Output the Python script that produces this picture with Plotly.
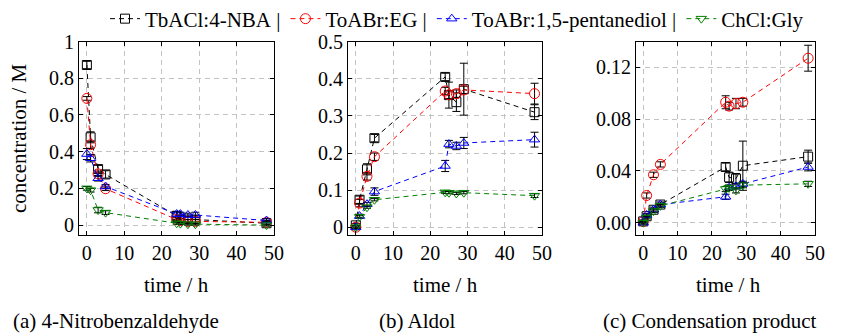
import plotly.graph_objects as go

# ---------------- data ----------------
time_h = [0, 1, 3, 5, 24, 25, 27, 29, 48]
series_names = ["TbACl:4-NBA", "ToABr:EG", "ToABr:1,5-pentanediol", "ChCl:Gly"]
captions = ["(a) 4-Nitrobenzaldehyde", "(b) Aldol", "(c) Condensation product"]

# (a) 4-Nitrobenzaldehyde
a_tbacl = [0.872, 0.478, 0.305, 0.276, 0.050, 0.035, 0.030, 0.030, 0.010]
a_toabr_eg = [0.690, 0.438, 0.279, 0.198, 0.030, 0.025, 0.020, 0.020, 0.015]
a_toabr_pd = [0.387, 0.364, 0.255, 0.210, 0.060, 0.060, 0.055, 0.055, 0.025]
a_chcl_gly = [0.200, 0.190, 0.082, 0.068, 0.010, 0.008, 0.005, 0.005, 0.000]
a_tbacl_err = [0.02, 0.03, 0.02, 0.02, 0.02, 0.015, 0.015, 0.02, 0.01]
a_toabr_eg_err = [0.01, 0.02, 0.015, 0.01, 0.01, 0.01, 0.01, 0.01, 0.01]
a_toabr_pd_err = [0.03, 0.02, 0.015, 0.01, 0.015, 0.01, 0.01, 0.015, 0.01]
a_chcl_gly_err = [0.01, 0.01, 0.015, 0.01, 0.005, 0.005, 0.005, 0.005, 0.005]

# (b) Aldol
b_tbacl = [0.005, 0.074, 0.156, 0.240, 0.405, 0.356, 0.337, 0.372, 0.310]
b_toabr_eg = [0.000, 0.065, 0.137, 0.190, 0.367, 0.357, 0.360, 0.370, 0.360]
b_toabr_pd = [0.000, 0.030, 0.062, 0.096, 0.165, 0.224, 0.219, 0.227, 0.236]
b_chcl_gly = [0.000, 0.028, 0.054, 0.074, 0.094, 0.093, 0.091, 0.093, 0.085]
b_tbacl_err = [0.005, 0.01, 0.015, 0.01, 0.01, 0.035, 0.025, 0.07, 0.02]
b_toabr_eg_err = [0.005, 0.01, 0.01, 0.01, 0.01, 0.01, 0.01, 0.01, 0.028]
b_toabr_pd_err = [0.005, 0.005, 0.005, 0.01, 0.015, 0.01, 0.01, 0.015, 0.02]
b_chcl_gly_err = [0.003, 0.003, 0.003, 0.003, 0.003, 0.003, 0.003, 0.003, 0.005]

# (c) Condensation product
c_tbacl = [0.001, 0.005, 0.010, 0.014, 0.043, 0.035, 0.034, 0.044, 0.051]
c_toabr_eg = [0.001, 0.021, 0.037, 0.045, 0.093, 0.090, 0.092, 0.093, 0.127]
c_toabr_pd = [0.000, 0.006, 0.010, 0.014, 0.020, 0.027, 0.028, 0.030, 0.043]
c_chcl_gly = [0.000, 0.004, 0.009, 0.013, 0.026, 0.027, 0.025, 0.029, 0.030]
c_tbacl_err = [0.001, 0.001, 0.002, 0.002, 0.003, 0.004, 0.004, 0.019, 0.005]
c_toabr_eg_err = [0.001, 0.002, 0.002, 0.002, 0.005, 0.003, 0.004, 0.003, 0.010]
c_toabr_pd_err = [0.001, 0.001, 0.001, 0.001, 0.002, 0.002, 0.002, 0.002, 0.003]
c_chcl_gly_err = [0.001, 0.001, 0.001, 0.001, 0.002, 0.002, 0.002, 0.002, 0.002]

x_ticks = [0, 10, 20, 30, 40, 50]
a_y_ticks = [0, 0.2, 0.4, 0.6, 0.8, 1.0]
a_y_labels = ["0", "0.2", "0.4", "0.6", "0.8", "1"]
b_y_ticks = [0, 0.1, 0.2, 0.3, 0.4, 0.5]
b_y_labels = ["0", "0.1", "0.2", "0.3", "0.4", "0.5"]
c_y_ticks = [0, 0.04, 0.08, 0.12]
c_y_labels = ["0.00", "0.04", "0.08", "0.12"]

panels = [
    ([a_tbacl, a_toabr_eg, a_toabr_pd, a_chcl_gly],
     [a_tbacl_err, a_toabr_eg_err, a_toabr_pd_err, a_chcl_gly_err]),
    ([b_tbacl, b_toabr_eg, b_toabr_pd, b_chcl_gly],
     [b_tbacl_err, b_toabr_eg_err, b_toabr_pd_err, b_chcl_gly_err]),
    ([c_tbacl, c_toabr_eg, c_toabr_pd, c_chcl_gly],
     [c_tbacl_err, c_toabr_eg_err, c_toabr_pd_err, c_chcl_gly_err]),
]

# ---------------- style ----------------
# The page body has an 8px default margin; window pixel positions are
# converted to figure fractions relative to the figure's top-left corner.
OFF = 8
W, H = 841, 336


def fx(px):
    return (px - OFF) / W


def fy(py):
    return 1 - (py - OFF) / H


FONT = "Liberation Serif"
FS_TICK = 20
FS_TEXT = 21
colors = ["black", "rgb(255,0,0)", "rgb(0,0,255)", "rgb(0,128,0)"]
symbols = ["square-open", "circle-open", "triangle-up-open", "triangle-down-open"]
sizes = [9, 10, 9, 9]

# the rightmost strip of the window is not visible, so the third panel ends a bit earlier
x_dom = [(fx(79), fx(274)), (fx(348), fx(542)), (fx(636), fx(815))]
label_cx = [176.5, 445, 728]
y_dom = [fy(235), fy(41.5)]
y_ranges = [[-0.054, 1.0], [-0.021, 0.5005], [-0.0095, 0.1399]]
x_range = [-2.1, 50]
y_tick_sets = [(a_y_ticks, a_y_labels), (b_y_ticks, b_y_labels), (c_y_ticks, c_y_labels)]

fig = go.Figure()

for p, (vals, errs) in enumerate(panels):
    xa = "x" if p == 0 else f"x{p+1}"
    ya = "y" if p == 0 else f"y{p+1}"
    for s in range(4):
        nm = series_names[s] + ("\u00a0|" if s < 3 else "")
        fig.add_trace(go.Scatter(
            x=time_h, y=vals[s], xaxis=xa, yaxis=ya,
            mode="lines+markers", name=nm, legendgroup=series_names[s],
            showlegend=(p == 0),
            line=dict(color=colors[s], width=1, dash="5px,4px"),
            marker=dict(symbol=symbols[s], size=sizes[s], color=colors[s],
                        line=dict(width=1, color=colors[s])),
            error_y=dict(type="data", array=errs[s], color="black",
                         thickness=1, width=4),
            cliponaxis=False,
        ))

axis_common = dict(
    showline=True, linecolor="black", linewidth=1, mirror="ticks",
    ticks="inside", ticklen=4, tickcolor="black",
    showgrid=True, gridcolor="rgb(195,195,195)", griddash="5px,4px", gridwidth=1,
    zeroline=False, tickfont=dict(family=FONT, size=FS_TICK, color="black"),
    ticklabeloverflow="allow",
)

layout = dict(
    width=W, height=H, margin=dict(l=0, r=0, t=0, b=0, autoexpand=False),
    paper_bgcolor="white", plot_bgcolor="white",
    font=dict(family=FONT, size=FS_TEXT, color="black"),
    showlegend=True,
    legend=dict(orientation="h", x=fx(457), xanchor="center", y=fy(19), yanchor="middle",
                font=dict(family=FONT, size=FS_TEXT, color="black"),
                itemwidth=30, tracegroupgap=0, bgcolor="rgba(0,0,0,0)"),
)
for p in range(3):
    xk = "xaxis" if p == 0 else f"xaxis{p+1}"
    yk = "yaxis" if p == 0 else f"yaxis{p+1}"
    ya = "y" if p == 0 else f"y{p+1}"
    xa = "x" if p == 0 else f"x{p+1}"
    layout[xk] = dict(axis_common, domain=list(x_dom[p]), range=x_range, anchor=ya,
                      tickvals=x_ticks, ticktext=[str(v) for v in x_ticks])
    layout[yk] = dict(axis_common, domain=list(y_dom), range=y_ranges[p], anchor=xa,
                      tickvals=y_tick_sets[p][0], ticktext=y_tick_sets[p][1])

annotations = []
for p in range(3):
    annotations.append(dict(text="time / h", x=fx(label_cx[p]), y=fy(285), xref="paper", yref="paper",
                            showarrow=False, xanchor="center", yanchor="middle",
                            font=dict(family=FONT, size=FS_TEXT, color="black")))
cap_x = [116, 417, 710]
for p in range(3):
    annotations.append(dict(text=captions[p], x=fx(cap_x[p]), y=fy(321), xref="paper", yref="paper",
                            showarrow=False, xanchor="center", yanchor="middle",
                            font=dict(family=FONT, size=FS_TEXT, color="black")))
annotations.append(dict(text="concentration / M", x=fx(19), y=fy(138), xref="paper", yref="paper",
                        showarrow=False, xanchor="center", yanchor="middle", textangle=-90,
                        font=dict(family=FONT, size=FS_TEXT, color="black")))
layout["annotations"] = annotations

fig.update_layout(**layout)
fig.write_html("out.html")
